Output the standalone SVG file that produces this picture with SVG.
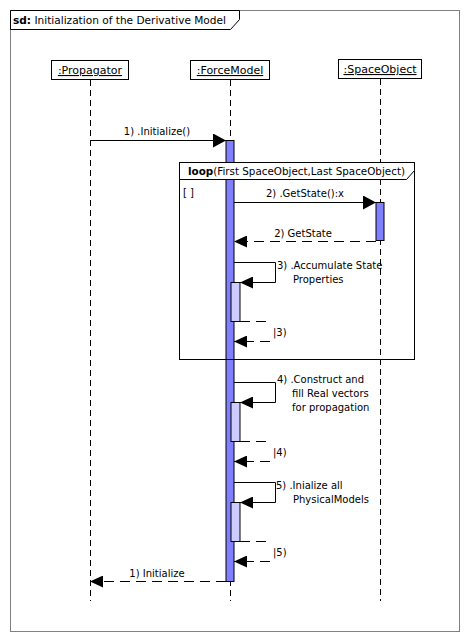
<svg xmlns="http://www.w3.org/2000/svg" width="470" height="642" viewBox="0 0 470 642">
<defs>
<style>
text{font-family:"DejaVu Sans","Liberation Sans",sans-serif;font-size:10px;fill:#000}
.b{font-weight:bold}
.hd{font-size:11px}
.head{fill:#fff;stroke:#000;stroke-width:1}
.life{stroke:#000;stroke-width:1;stroke-dasharray:6,4;fill:none}
.msg{stroke:#000;stroke-width:1;fill:none}
.ret{stroke:#000;stroke-width:1;fill:none;stroke-dasharray:10,6}
.act{fill:#8080ff;stroke:#000;stroke-width:1}
.act2{fill:#ccccff;stroke:#000;stroke-width:1}
</style>
<marker id="ah" markerWidth="14" markerHeight="14" refX="13" refY="7" orient="auto" markerUnits="userSpaceOnUse">
<path d="M0,0 L13,7 L0,14 z" fill="#000"/>
</marker>
<marker id="ahs" markerWidth="14" markerHeight="12" refX="13" refY="6" orient="auto" markerUnits="userSpaceOnUse">
<path d="M0,0 L13,6 L0,12 z" fill="#000"/>
</marker>
</defs>
<rect x="0" y="0" width="470" height="642" fill="#fff"/>
<g id="frame">
<rect x="10.5" y="10.5" width="449" height="621" fill="none" stroke="#808080"/>
<path d="M10.5,10.5 H239.5 V19.5 L230.5,29.5 H10.5 Z" fill="#fff" stroke="#000"/>
<text x="13" y="24" textLength="213" lengthAdjust="spacingAndGlyphs"><tspan class="b">sd:</tspan> Initialization of the Derivative Model</text>
</g>
<g id="propagator">
<rect class="head" x="51.5" y="60.5" width="77" height="19"/>
<text class="hd" x="90" y="74" text-anchor="middle" text-decoration="underline"> :Propagator</text>
<line class="life" x1="90.5" y1="80" x2="90.5" y2="601"/>
</g>
<g id="forcemodel">
<rect class="head" x="190.5" y="60.5" width="79" height="19"/>
<text class="hd" x="230" y="74" text-anchor="middle" text-decoration="underline"> :ForceModel</text>
<line class="life" x1="230.5" y1="80" x2="230.5" y2="601"/>
</g>
<g id="spaceobject">
<rect class="head" x="338.5" y="59.5" width="83" height="19"/>
<text class="hd" x="380" y="73" text-anchor="middle" text-decoration="underline"> :SpaceObject</text>
<line class="life" x1="380.5" y1="79" x2="380.5" y2="601"/>
</g>
<g id="activations">
<rect class="act" x="226" y="140.5" width="8" height="441"/>
<rect class="act" x="376" y="202.5" width="8" height="38"/>
<rect class="act2" x="231" y="282.5" width="9" height="39"/>
<rect class="act2" x="231" y="402.5" width="9" height="39"/>
<rect class="act2" x="231" y="502.5" width="9" height="39"/>
</g>
<g id="loop">
<rect x="179.5" y="162.5" width="235" height="197" fill="none" stroke="#000"/>
<path d="M179.5,162.5 H414.5 V170.5 L406.5,179.5 H179.5 Z" fill="#fff" stroke="#000"/>
<text x="188" y="175" textLength="217" lengthAdjust="spacingAndGlyphs"><tspan class="b">loop</tspan>(First SpaceObject,Last SpaceObject)</text>
<text x="183" y="196">[ ]</text>
</g>
<g id="connectors">
<line class="msg" x1="90" y1="140.5" x2="226" y2="140.5" marker-end="url(#ah)"/>
<text x="157" y="135" text-anchor="middle">1) .Initialize()</text>
<line class="msg" x1="234" y1="202.5" x2="376" y2="202.5" marker-end="url(#ah)"/>
<text x="305" y="197" text-anchor="middle">2) .GetState():x</text>
<line class="ret" x1="376" y1="241.5" x2="234" y2="241.5" marker-end="url(#ahs)"/>
<text x="303" y="237" text-anchor="middle">2) GetState</text>
<path class="msg" d="M234,262.5 H275.5 V282.5 H240" marker-end="url(#ahs)"/>
<text x="277" y="269">3) .Accumulate State</text>
<text x="293" y="283">Properties</text>
<line class="ret" x1="240" y1="321.5" x2="270" y2="321.5"/>
<line class="ret" x1="270" y1="341.5" x2="234" y2="341.5" stroke-dasharray="7,6" marker-end="url(#ahs)"/>
<text x="273" y="336">|3)</text>
<path class="msg" d="M234,382.5 H275.5 V402.5 H240" marker-end="url(#ahs)"/>
<text x="277" y="383">4) .Construct and</text>
<text x="292" y="397">fill Real vectors</text>
<text x="292" y="411">for propagation</text>
<line class="ret" x1="240" y1="441.5" x2="270" y2="441.5"/>
<line class="ret" x1="270" y1="461.5" x2="234" y2="461.5" stroke-dasharray="7,6" marker-end="url(#ahs)"/>
<text x="273" y="456">|4)</text>
<path class="msg" d="M234,482.5 H275.5 V502.5 H240" marker-end="url(#ahs)"/>
<text x="276" y="489">5) .Inialize all</text>
<text x="293" y="503">PhysicalModels</text>
<line class="ret" x1="240" y1="541.5" x2="270" y2="541.5"/>
<line class="ret" x1="270" y1="561.5" x2="234" y2="561.5" stroke-dasharray="7,6" marker-end="url(#ahs)"/>
<text x="273" y="556">|5)</text>
<line class="ret" x1="226" y1="581.5" x2="90" y2="581.5" marker-end="url(#ahs)"/>
<text x="157" y="577" text-anchor="middle">1) Initialize</text>
</g>
</svg>
